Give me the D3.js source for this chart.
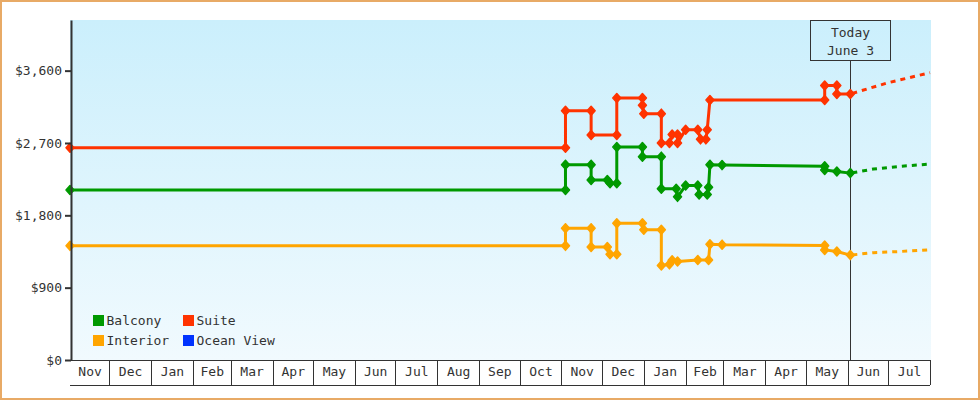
<!DOCTYPE html>
<html>
<head>
<meta charset="utf-8">
<script src="https://cdn.jsdelivr.net/npm/d3@7"></script>
<style>
  html, body { margin: 0; padding: 0; background: #fff; }
  svg { display: block; }
  text { font-family: "DejaVu Sans Mono", "Liberation Mono", monospace; font-size: 13px; fill: #333; }
</style>
</head>
<body>
<svg id="chart" width="980" height="400"></svg>
<script>
// ---------------- DATA ----------------
const xStart = "2008-11-02";
const xEnd = "2010-08-01";
const yMax = 4230;
const yTicks = [0, 900, 1800, 2700, 3600];
const todayDate = "2010-06-03";
const todayLabel = ["Today", "June 3"];

const legendNames = ["Balcony", "Suite", "Interior", "Ocean View"];

const suite = [
  ["2008-11-02", 2640], ["2009-11-04", 2640], ["2009-11-04", 3100], ["2009-11-23", 3100],
  ["2009-11-23", 2800], ["2009-12-12", 2800], ["2009-12-12", 3260], ["2009-12-31", 3260],
  ["2009-12-31", 3170], ["2010-01-01", 3065], ["2010-01-14", 3065], ["2010-01-14", 2700],
  ["2010-01-20", 2700], ["2010-01-22", 2805], ["2010-01-26", 2805], ["2010-01-26", 2700],
  ["2010-02-01", 2865], ["2010-02-10", 2865], ["2010-02-12", 2745], ["2010-02-16", 2745],
  ["2010-02-17", 2865], ["2010-02-19", 3235], ["2010-05-15", 3235], ["2010-05-15", 3415],
  ["2010-05-24", 3415], ["2010-05-24", 3310], ["2010-06-03", 3310]
];
const balcony = [
  ["2008-11-02", 2115], ["2009-11-04", 2115], ["2009-11-04", 2430], ["2009-11-23", 2430],
  ["2009-11-23", 2240], ["2009-12-05", 2240], ["2009-12-07", 2200], ["2009-12-12", 2200],
  ["2009-12-12", 2650], ["2009-12-31", 2650], ["2009-12-31", 2530], ["2010-01-14", 2530],
  ["2010-01-14", 2130], ["2010-01-25", 2130], ["2010-01-26", 2030], ["2010-02-01", 2170],
  ["2010-02-10", 2170], ["2010-02-11", 2060], ["2010-02-17", 2060], ["2010-02-18", 2150],
  ["2010-02-19", 2430], ["2010-02-28", 2425], ["2010-05-15", 2410], ["2010-05-15", 2365],
  ["2010-05-24", 2345], ["2010-06-03", 2325]
];
const interior = [
  ["2008-11-02", 1420], ["2009-11-04", 1420], ["2009-11-04", 1640], ["2009-11-23", 1640],
  ["2009-11-23", 1405], ["2009-12-05", 1405], ["2009-12-07", 1315], ["2009-12-12", 1315],
  ["2009-12-12", 1700], ["2009-12-31", 1700], ["2010-01-01", 1620], ["2010-01-14", 1620],
  ["2010-01-14", 1175], ["2010-01-20", 1190], ["2010-01-22", 1240], ["2010-01-26", 1225],
  ["2010-02-10", 1245], ["2010-02-18", 1245], ["2010-02-19", 1440], ["2010-02-28", 1435],
  ["2010-05-15", 1425], ["2010-05-15", 1370], ["2010-05-24", 1350], ["2010-06-03", 1305]
];
const oceanView = [];

const suiteForecast = [["2010-06-03", 3310], ["2010-07-01", 3450], ["2010-08-01", 3575]];
const balconyForecast = [["2010-06-03", 2325], ["2010-06-20", 2375], ["2010-07-10", 2410], ["2010-08-01", 2438]];
const interiorForecast = [["2010-06-03", 1305], ["2010-06-20", 1335], ["2010-07-10", 1350], ["2010-08-01", 1372]];

// ---------------- STYLE ----------------
const colors = { "Balcony": "#009900", "Suite": "#ff3300", "Interior": "#ffa500", "Ocean View": "#0033ff" };
const series = [
  { name: "Suite", data: suite, forecast: suiteForecast },
  { name: "Balcony", data: balcony, forecast: balconyForecast },
  { name: "Interior", data: interior, forecast: interiorForecast },
  { name: "Ocean View", data: oceanView, forecast: [] }
];

// ---------------- CHART ----------------
const parse = d3.timeParse("%Y-%m-%d");
const svg = d3.select("#chart");
const pL = 70, pR = 930, pT = 20, pB = 360;

const x = d3.scaleTime().domain([parse(xStart), parse(xEnd)]).range([pL, pR]);
const y = d3.scaleLinear().domain([0, yMax]).range([pB, pT]);

// outer border
svg.append("rect").attr("x", 1).attr("y", 1).attr("width", 978).attr("height", 398)
  .attr("fill", "#fff").attr("stroke", "#e8aa66").attr("stroke-width", 2);

// gradient background
const grad = svg.append("defs").append("linearGradient").attr("id", "bg")
  .attr("x1", 0).attr("y1", 0).attr("x2", 0).attr("y2", 1);
grad.append("stop").attr("offset", "0%").attr("stop-color", "#cbeffc");
grad.append("stop").attr("offset", "100%").attr("stop-color", "#f1fafe");
svg.append("rect").attr("x", pL).attr("y", pT).attr("width", pR - pL + 1).attr("height", pB - pT)
  .attr("fill", "url(#bg)");

// x axis month boxes
const d0 = parse(xStart), d1 = parse(xEnd);
const monthStarts = d3.timeMonth.range(d3.timeMonth.ceil(d0), d1);
const months = d3.timeMonth.range(d3.timeMonth.floor(d0), d1).map(m => {
  const a = Math.max(+m, +d0), b = Math.min(+d3.timeMonth.offset(m, 1), +d1);
  return { start: m, mid: new Date((a + b) / 2) };
});

const sepAxis = svg.append("g").attr("transform", `translate(0,${pB})`)
  .call(d3.axisBottom(x).tickValues(monthStarts.concat([d1])).tickSize(25).tickSizeOuter(0).tickFormat(""));
sepAxis.selectAll("path, line").attr("stroke", "#333").attr("stroke-width", 1).attr("shape-rendering", "crispEdges");

const labAxis = svg.append("g").attr("transform", `translate(0,${pB})`)
  .call(d3.axisBottom(x).tickValues(months.map(m => m.mid)).tickSize(0).tickPadding(7)
    .tickFormat((d, i) => d3.timeFormat("%b")(months[i].start)));
labAxis.select(".domain").remove();
labAxis.selectAll("text").attr("font-family", null).attr("font-size", null).attr("fill", "#333");

svg.append("line").attr("x1", pL).attr("x2", pR).attr("y1", pB + 25).attr("y2", pB + 25)
  .attr("stroke", "#333").attr("stroke-width", 1).attr("shape-rendering", "crispEdges");

// today marker
const tx = Math.round(x(parse(todayDate))) + 0.5;
svg.append("line").attr("x1", tx).attr("x2", tx).attr("y1", pT + 40).attr("y2", pB)
  .attr("stroke", "#333").attr("stroke-width", 1);
svg.append("rect").attr("x", tx - 40).attr("y", pT + 0.5).attr("width", 80).attr("height", 40)
  .attr("fill", "none").attr("stroke", "#333").attr("stroke-width", 1);
svg.append("text").attr("x", tx).attr("y", pT + 17).attr("text-anchor", "middle").text(todayLabel[0]);
svg.append("text").attr("x", tx).attr("y", pT + 35).attr("text-anchor", "middle").text(todayLabel[1]);

// series
const line = d3.line().x(d => x(parse(d[0]))).y(d => y(d[1]));
const diamond = "M0,-4.5L4,0L0,4.5L-4,0Z";
series.forEach(s => {
  if (!s.data.length) return;
  const c = colors[s.name];
  svg.append("path").datum(s.forecast).attr("d", line).attr("fill", "none")
    .attr("stroke", c).attr("stroke-width", 3).attr("stroke-dasharray", "5,5").attr("stroke-dashoffset", -2);
  svg.append("path").datum(s.data).attr("d", line).attr("fill", "none")
    .attr("stroke", c).attr("stroke-width", 3).attr("stroke-linejoin", "round");
  svg.append("g").selectAll("path").data(s.data).join("path")
    .attr("transform", d => `translate(${x(parse(d[0]))},${y(d[1])})`)
    .attr("d", diamond).attr("fill", c).attr("stroke", c).attr("stroke-width", 1.5).attr("stroke-linejoin", "round");
});

// y axis
const yAxis = svg.append("g").attr("transform", `translate(${pL + 1},0)`)
  .call(d3.axisLeft(y).tickValues(yTicks).tickSize(6).tickSizeOuter(0).tickPadding(3)
    .tickFormat(d => "$" + d3.format(",")(d)));
yAxis.selectAll("path, line").attr("stroke", "#333").attr("stroke-width", 2);
yAxis.selectAll("text").attr("font-family", null).attr("font-size", null).attr("fill", "#333");

// legend
const lg = svg.append("g");
legendNames.forEach((n, i) => {
  const col = i % 2, row = Math.floor(i / 2);
  const lx = 93 + col * 90, ly = 315 + row * 20;
  lg.append("rect").attr("x", lx).attr("y", ly).attr("width", 11).attr("height", 11).attr("fill", colors[n]);
  lg.append("text").attr("x", lx + 13.5).attr("y", ly + 10).text(n);
});
</script>
</body>
</html>
